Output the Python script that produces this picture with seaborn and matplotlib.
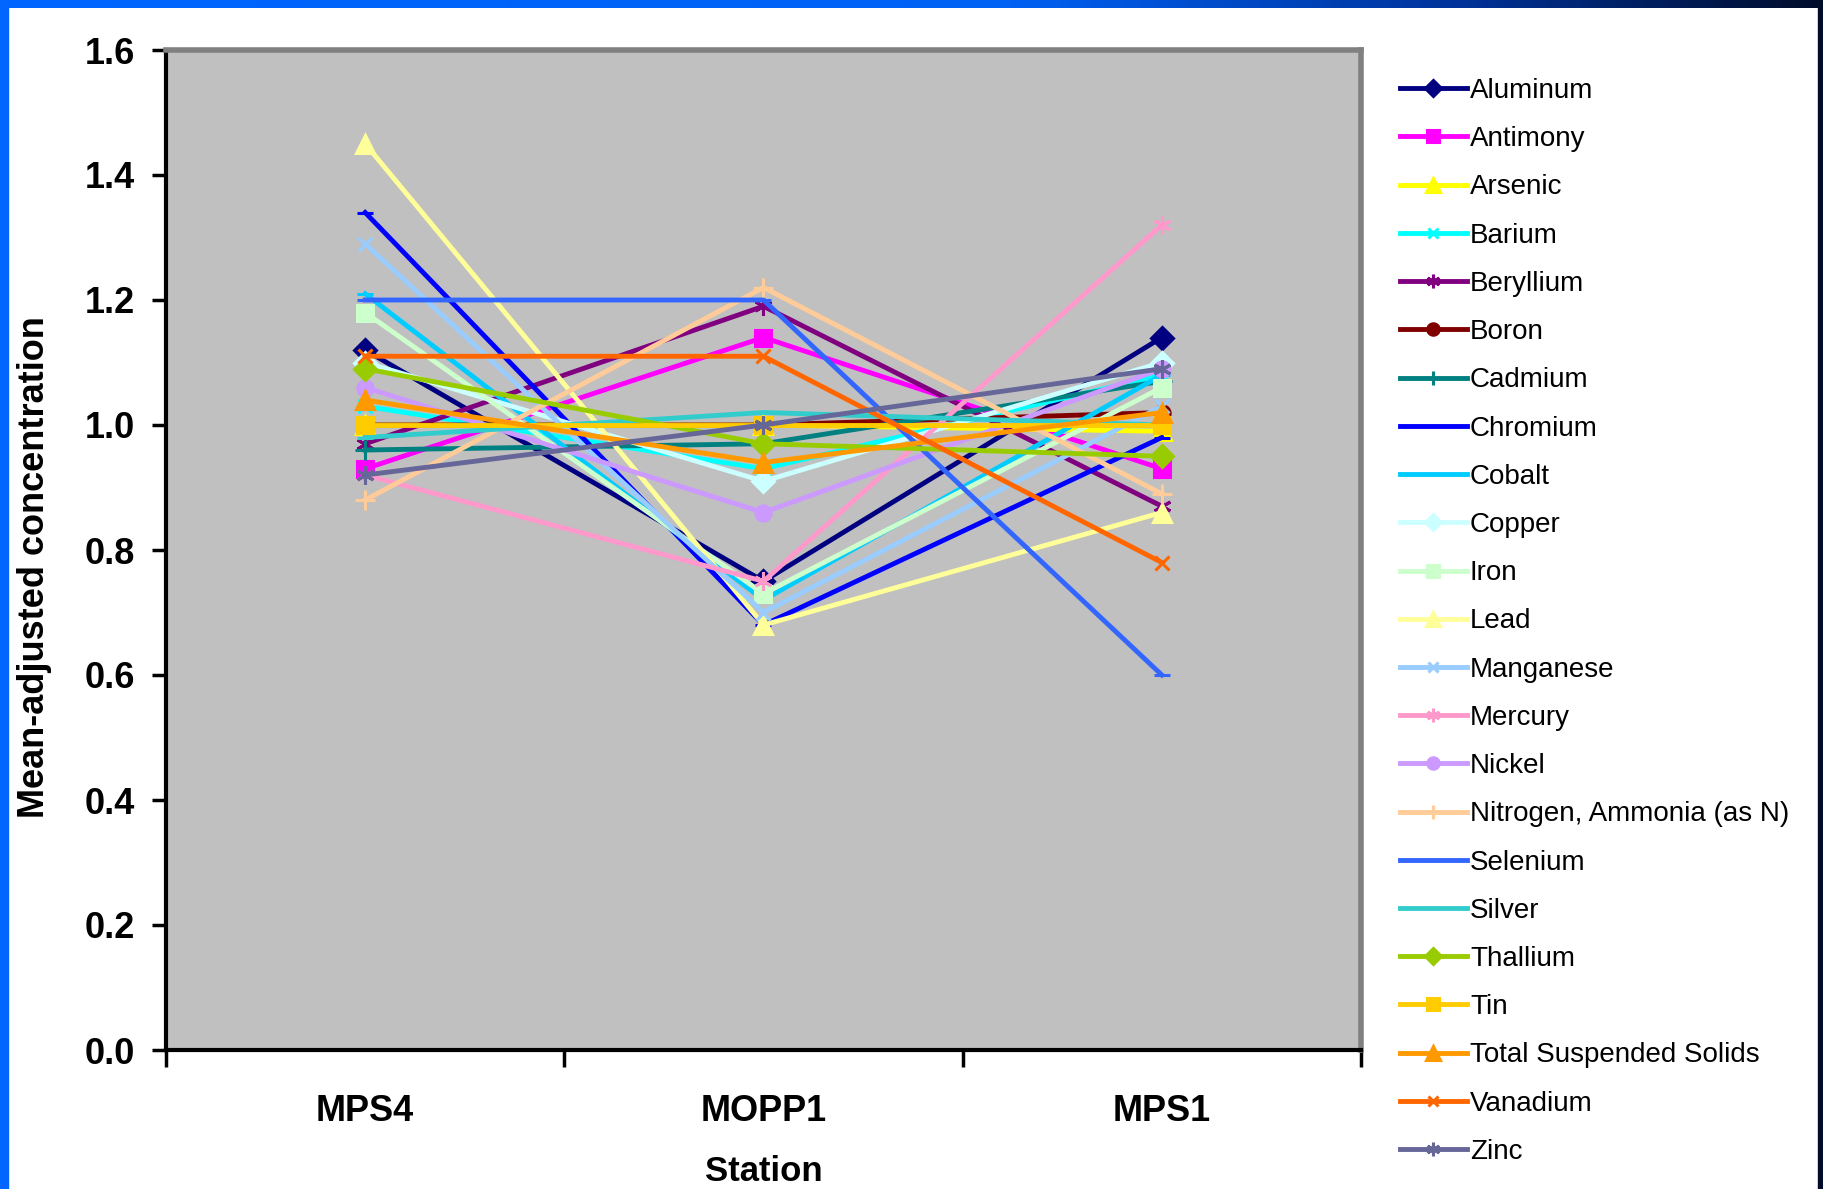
# Mean-adjusted concentration of each analyte by station

import numpy as np
import pandas as pd
import matplotlib
matplotlib.use("Agg")
import matplotlib.pyplot as plt
from matplotlib.patches import Rectangle
from matplotlib.colors import LinearSegmentedColormap
import seaborn as sb

# Data
stations = ["MPS4", "MOPP1", "MPS1"]
elements = ["Aluminum", "Antimony", "Arsenic", "Barium", "Beryllium", "Boron",
            "Cadmium", "Chromium", "Cobalt", "Copper", "Iron", "Lead",
            "Manganese", "Mercury", "Nickel", "Nitrogen, Ammonia (as N)",
            "Selenium", "Silver", "Thallium", "Tin", "Total Suspended Solids",
            "Vanadium", "Zinc"]
mps4 = [1.12, 0.93, 1.00, 1.03, 0.97, 1.00, 0.96, 1.34, 1.21, 1.10, 1.18, 1.45,
        1.29, 0.92, 1.06, 0.88, 1.20, 0.98, 1.09, 1.00, 1.04, 1.11, 0.92]
mopp1 = [0.75, 1.14, 1.00, 0.93, 1.19, 1.00, 0.97, 0.68, 0.72, 0.91, 0.73, 0.68,
         0.70, 0.75, 0.86, 1.22, 1.20, 1.02, 0.97, 1.00, 0.94, 1.11, 1.00]
mps1 = [1.14, 0.93, 0.99, 1.08, 0.87, 1.02, 1.07, 0.98, 1.08, 1.10, 1.06, 0.86,
        1.03, 1.32, 1.09, 0.89, 0.60, 1.00, 0.95, 1.00, 1.02, 0.78, 1.09]

colors = ["#000080", "#FF00FF", "#FFFF00", "#00FFFF", "#800080", "#800000",
          "#008080", "#0000FF", "#00CCFF", "#CCFFFF", "#CCFFCC", "#FFFF99",
          "#99CCFF", "#FF99CC", "#CC99FF", "#FFCC99", "#3366FF", "#33CCCC",
          "#99CC00", "#FFCC00", "#FF9900", "#FF6600", "#666699"]

# Excel style marker cycle
star = (6, 2, 0)
marker_cycle = [("D", 11), ("s", 12), ("^", 13), ("x", 10), (star, 13),
                ("o", 11), ("+", 14), ("_", 12), ("_", 12)]

df = pd.DataFrame({
    "Element": np.repeat(elements, 3),
    "Station": stations * len(elements),
    "Value": np.column_stack([mps4, mopp1, mps1]).ravel(),
})

fig = plt.figure(figsize=(18.24, 11.89), dpi=100)
fig.patch.set_facecolor("white")
plt.rcParams["font.family"] = ["Liberation Sans", "DejaVu Sans"]

ax = fig.add_axes([166 / 1824, 1 - 1050 / 1189, 1195 / 1824, 1000 / 1189])
ax.set_facecolor("#C0C0C0")

for i, name in enumerate(elements):
    m, ms = marker_cycle[i % len(marker_cycle)]
    sub = df[df["Element"] == name]
    sb.lineplot(x="Station", y="Value", data=sub, sort=False, ax=ax,
                color=colors[i], marker=m, markersize=ms, markeredgewidth=2.2,
                markeredgecolor=colors[i], linewidth=3.5, label=name)

ax.set_xlim(-0.5, 2.5)
ax.set_ylim(0, 1.6)
ax.set_yticks(np.arange(0, 1.61, 0.2))
ax.set_yticklabels([f"{v:.1f}" for v in np.arange(0, 1.61, 0.2)],
                   fontsize=26, fontweight="bold")
ax.tick_params(axis="y", length=10, width=2.5, pad=12, direction="out")

ax.set_xticks([-0.5, 0.5, 1.5, 2.5])
ax.set_xticklabels([])
ax.set_xticks([0, 1, 2], minor=True)
ax.set_xticklabels(stations, minor=True, fontsize=26, fontweight="bold")
ax.tick_params(axis="x", which="major", length=12, width=2.5, direction="out")
ax.tick_params(axis="x", which="minor", length=0, pad=32)

for s in ["left", "bottom"]:
    ax.spines[s].set_color("black")
    ax.spines[s].set_linewidth(3)
for s in ["top", "right"]:
    ax.spines[s].set_color("#808080")
    ax.spines[s].set_linewidth(4)

ax.set_xlabel("Station", fontsize=25, fontweight="bold")
ax.set_ylabel("Mean-adjusted concentration", fontsize=26, fontweight="bold")
ax.xaxis.set_label_coords(0.5, -0.105)
ax.yaxis.set_label_coords(-0.095, 0.483)

ax.legend(loc="upper left", bbox_to_anchor=(1400 / 1824, 1 - 78 / 1189),
          bbox_transform=fig.transFigure, frameon=False, fontsize=20,
          handlelength=2.4, handletextpad=0.12, labelspacing=0.80,
          borderpad=0, borderaxespad=0, markerscale=0.75)

# Slide frame around the chart
fig.add_artist(Rectangle((0, 0), 8 / 1824, 1, color="#0066FF",
                         transform=fig.transFigure, zorder=5))
fig.add_artist(Rectangle((1818 / 1824, 0), 6 / 1824, 1, color="#000C2A",
                         transform=fig.transFigure, zorder=5))
top = fig.add_axes([0, 1 - 8 / 1189, 1, 8 / 1189])
cmap = LinearSegmentedColormap.from_list(
    "frame", [(0, "#0066FF"), (0.55, "#0062F5"), (0.8, "#00339A"), (1, "#000C2A")])
top.imshow(np.linspace(0, 1, 256)[None, :], aspect="auto", cmap=cmap)
top.axis("off")

fig.savefig("out.png", dpi=100)
